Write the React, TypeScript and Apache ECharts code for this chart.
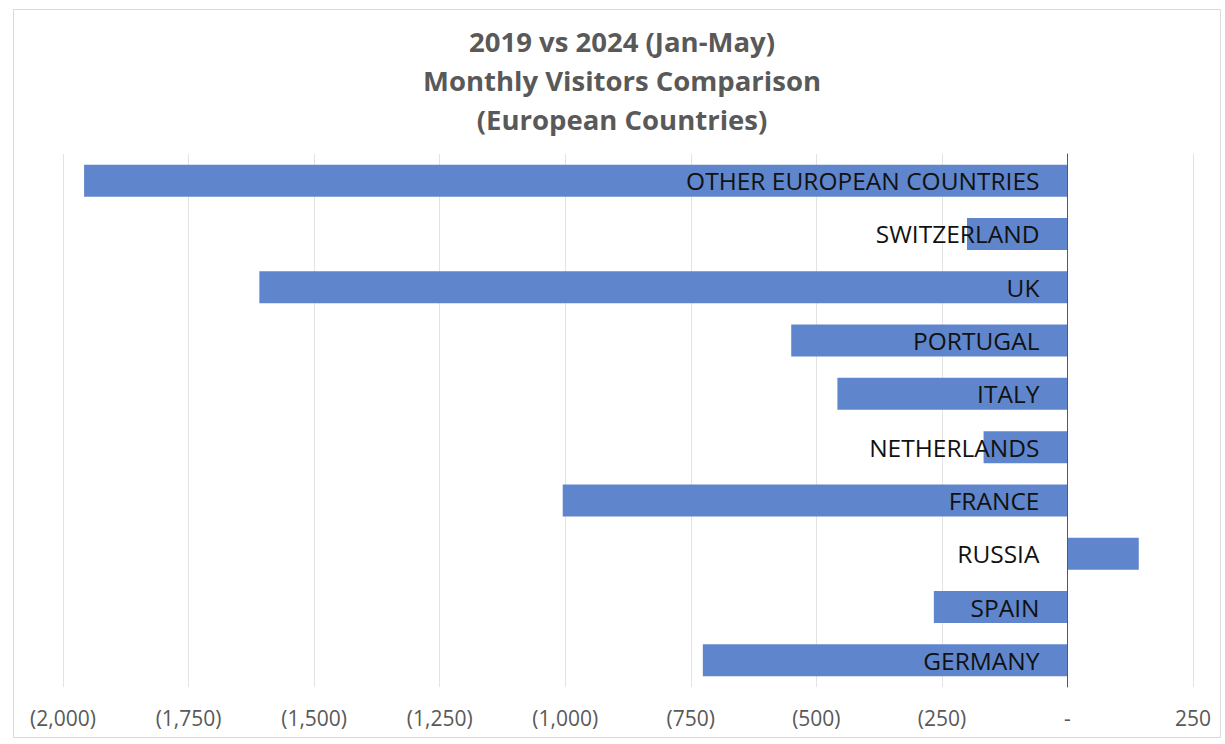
import React, { useEffect, useRef } from "react";
import * as echarts from "echarts";

const categories = [
  "GERMANY",
  "SPAIN",
  "RUSSIA",
  "FRANCE",
  "NETHERLANDS",
  "ITALY",
  "PORTUGAL",
  "UK",
  "SWITZERLAND",
  "OTHER EUROPEAN COUNTRIES",
];
const diffValues = [-726, -266, 142, -1005, -167, -458, -550, -1609, -200, -1958];
const titleLines = ["2019 vs 2024 (Jan-May)", "Monthly Visitors Comparison", "(European Countries)"];
const X_MIN = -2000;
const X_MAX = 250;
const X_STEP = 250;

const FONT = "'Open Sans', Lato, sans-serif";
const W = 1225;
const H = 744;
const GRID_LEFT = 63;
const GRID_RIGHT = 32;

function fmt(v: number): string {
  if (v === 0) return "-";
  const s = Math.abs(v).toLocaleString("en-US");
  return v < 0 ? `(${s})` : s;
}

export default function App() {
  const ref = useRef<HTMLDivElement>(null);
  useEffect(() => {
    if (!ref.current) return;
    const chart = echarts.init(ref.current, undefined, { renderer: "svg" });
    const plotW = W - GRID_LEFT - GRID_RIGHT;
    const zeroOffset = (plotW * (0 - X_MIN)) / (X_MAX - X_MIN);
    chart.setOption({
      animation: false,
      backgroundColor: "#ffffff",
      graphic: [
        {
          type: "rect",
          shape: { x: 13.5, y: 9.5, width: 1207, height: 728 },
          style: { fill: "none", stroke: "#d9d9d9", lineWidth: 1 },
          silent: true,
        },
        {
          type: "text",
          x: 622,
          y: 22,
          style: {
            text: titleLines.join("\n"),
            fontFamily: FONT,
            fontSize: 27.5,
            fontWeight: "bold",
            fill: "#595959",
            lineHeight: 39,
            align: "center",
            verticalAlign: "top",
          },
        },
      ],
      grid: {
        left: GRID_LEFT,
        right: GRID_RIGHT,
        top: 154,
        bottom: 57,
        containLabel: false,
        outerBoundsMode: "none",
      },
      xAxis: {
        type: "value",
        min: X_MIN,
        max: X_MAX,
        interval: X_STEP,
        axisLine: { show: false },
        axisTick: { show: false },
        splitLine: { show: true, lineStyle: { color: "#e3e3e3", width: 1 } },
        axisLabel: {
          formatter: (v: number) => fmt(v),
          fontFamily: FONT,
          fontSize: 21,
          color: "#595959",
          margin: 20,
        },
      },
      yAxis: {
        type: "category",
        data: categories,
        z: 10,
        position: "left",
        offset: -zeroOffset,
        axisLine: { show: true, onZero: false, lineStyle: { color: "#595959", width: 1 } },
        axisTick: { show: false },
        splitLine: { show: false },
        axisLabel: {
          fontFamily: FONT,
          fontSize: 24.5,
          color: "#111111",
          margin: 28,
        },
      },
      series: [
        {
          type: "bar",
          data: diffValues,
          barWidth: "60%",
          itemStyle: { color: "#5f86cc" },
          z: 2,
        },
      ],
    });
    return () => chart.dispose();
  }, []);
  return (
    <div
      ref={ref}
      style={{ position: "fixed", left: 0, top: 0, width: W, height: H }}
    />
  );
}
